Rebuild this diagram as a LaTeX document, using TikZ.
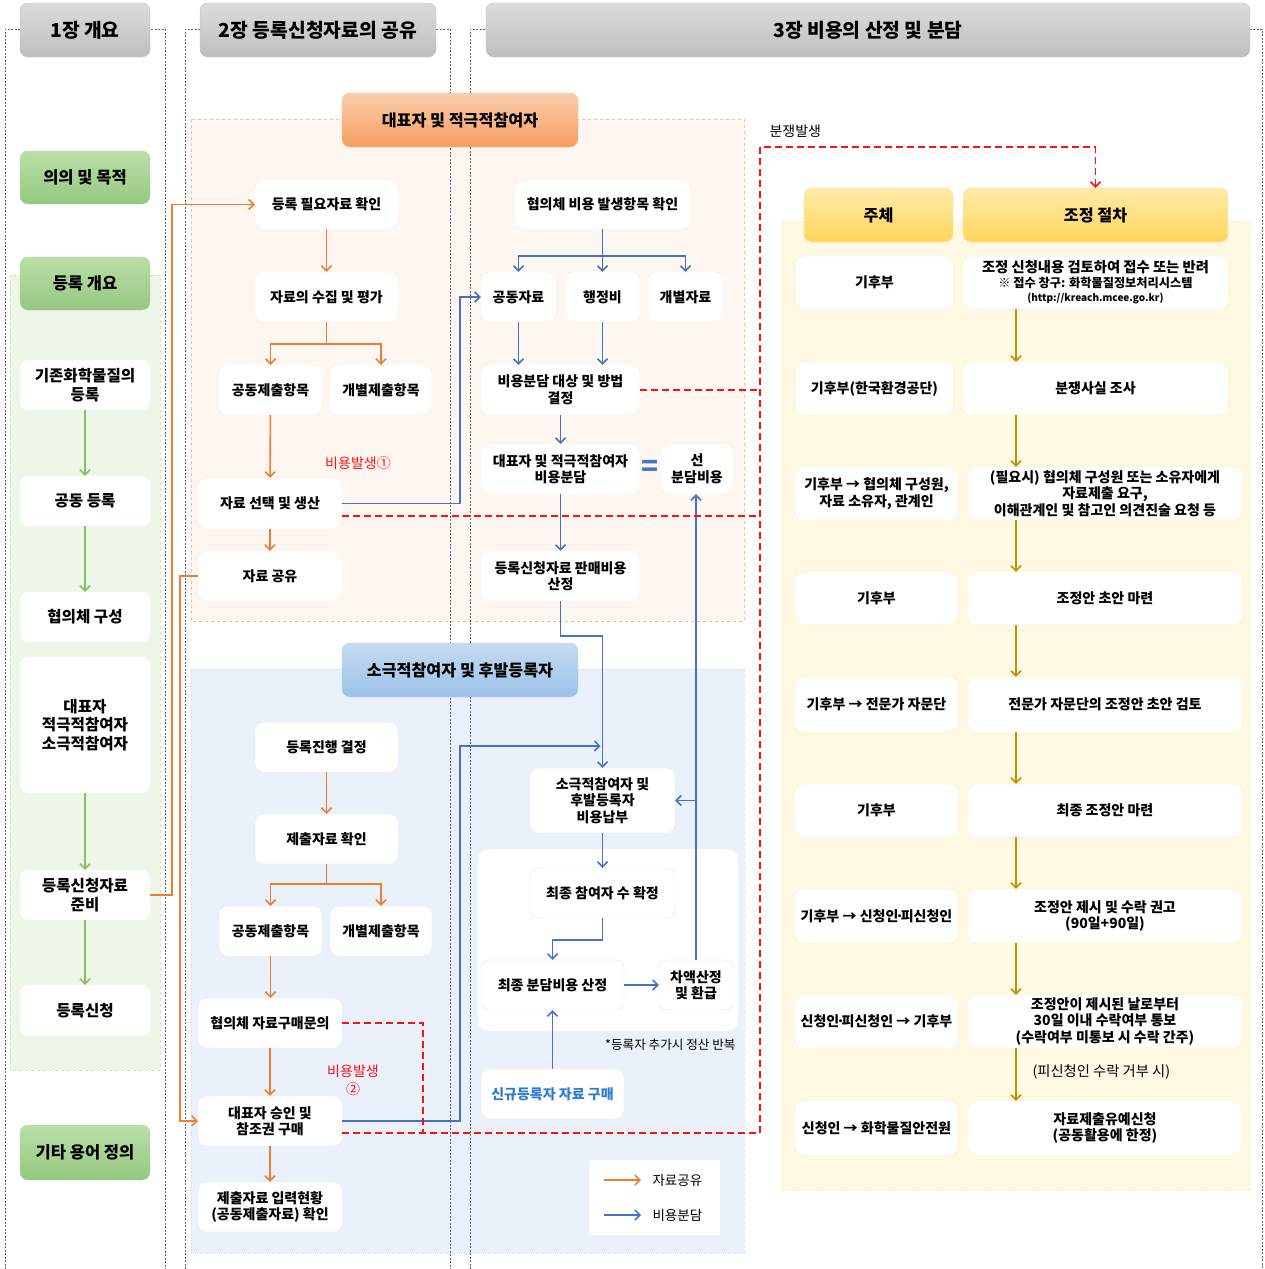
\documentclass[tikz,border=0pt]{standalone}
\usepackage{fontspec}
\setmainfont{Noto Sans CJK KR}
\usetikzlibrary{arrows.meta,calc}
\definecolor{hdgrayA}{HTML}{DCDCDC}
\definecolor{hdgrayB}{HTML}{BEBEBE}
\definecolor{hdgreenA}{HTML}{B9DFA8}
\definecolor{hdgreenB}{HTML}{96C780}
\definecolor{hdorgA}{HTML}{FBCFAE}
\definecolor{hdorgB}{HTML}{F59E5E}
\definecolor{hdblueA}{HTML}{C5DBF1}
\definecolor{hdblueB}{HTML}{9BC1E7}
\definecolor{hdyelA}{HTML}{FFEAA8}
\definecolor{hdyelB}{HTML}{FFD65C}
\definecolor{framec}{HTML}{5B6479}
\definecolor{orgline}{HTML}{ED7D31}
\definecolor{blueline}{HTML}{4472C4}
\definecolor{goldline}{HTML}{BF9000}
\definecolor{greenline}{HTML}{86C063}
\definecolor{redline}{HTML}{FF1010}
\definecolor{orgbg}{HTML}{FEF7F1}
\definecolor{bluebg}{HTML}{EAF1FA}
\definecolor{yelbg}{HTML}{FFF8E3}
\definecolor{greenbg}{HTML}{EEF6EA}
\definecolor{newblue}{HTML}{2E7BCF}
\newcommand{\mdot}{\kern-0.22em·\kern-0.22em}
\tikzset{sz/.style 2 args={minimum width=#1pt, minimum height=#2pt},
base/.style={rounded corners=8pt, inner sep=1pt, align=center, text=black, font=\bfseries\fontsize{14}{16.5}\selectfont},
chap/.style={base, draw=hdgrayB, top color=hdgrayA, bottom color=hdgrayB, font=\bfseries\fontsize{19.3}{22}\selectfont},
greenhd/.style={base, draw=hdgreenB!70, top color=hdgreenA, bottom color=hdgreenB, font=\bfseries\fontsize{16.5}{19}\selectfont},
orghd/.style={base, draw=hdorgB!70, top color=hdorgA, bottom color=hdorgB, font=\bfseries\fontsize{16.2}{19}\selectfont},
bluehd/.style={base, draw=hdblueB!70, top color=hdblueA, bottom color=hdblueB, font=\bfseries\fontsize{16.2}{19}\selectfont},
yelhd/.style={base, draw=hdyelB!70, top color=hdyelA, bottom color=hdyelB, font=\bfseries\fontsize{16.2}{19}\selectfont},
gbox/.style={base, fill=white, draw=greenbg!60!green!15, font=\bfseries\fontsize{15.6}{18.5}\selectfont},
obox/.style={base, fill=white, draw=orgline!15},
bbox/.style={base, fill=white, draw=blueline!18},
ybox/.style={base, fill=white, draw=hdyelA!80},
frame/.style={draw=framec, line width=0.6pt, dash pattern=on 2pt off 1.5pt},
greenarea/.style={fill=greenbg, draw=greenline!40, dashed},
orgarea/.style={fill=orgbg, draw=orgline!50, dashed},
bluearea/.style={fill=bluebg, draw=blueline!25, dotted},
yelarea/.style={fill=yelbg, draw=hdyelA, dotted},
tip/.style={-{Straight Barb[length=5pt,width=10pt]}},
oarr/.style={tip, draw=orgline, line width=1.6pt},
barr/.style={tip, draw=blueline, line width=1.5pt},
garr/.style={tip, draw=greenline, line width=1.5pt},
yarr/.style={tip, draw=goldline, line width=1.5pt},
rdash/.style={draw=redline, line width=1.6pt, dash pattern=on 7pt off 4pt},
note/.style={font=\fontsize{14}{16.5}\selectfont}}
\begin{document}
\begin{tikzpicture}[x=1pt,y=-1pt]
\useasboundingbox (0,0) rectangle (1265,1269);
% areas and chapter frames
\draw[greenarea] (10,275) rectangle (160,1070);
\draw[orgarea] (191,119) rectangle (744,621);
\draw[bluearea] (191,669) rectangle (744,1253);
\draw[yelarea] (782,221) rectangle (1250,1190);
\fill[white, rounded corners=10pt] (478,849) rectangle (738,1031);
\fill[white] (589,1160) rectangle (720,1235);
\draw[frame] (5,1269) -- (5,29) -- (165,29) -- (165,1269);
\draw[frame] (185,1269) -- (185,29) -- (450,29) -- (450,1269);
\draw[frame] (470,1269) -- (470,29) -- (1262,29) -- (1262,1269);

\node[chap, sz={130}{54}] (ch1) at (85,30) {1장 개요};
\node[chap, sz={236}{54}] (ch2) at (318,30) {2장 등록신청자료의 공유};
\node[chap, sz={764}{54}] (ch3) at (868,30) {3장 비용의 산정 및 분담};

% 1장
\node[greenhd, sz={130}{53}] (purpose) at (85,177.5) {의의 및 목적};
\node[greenhd, sz={130}{53}] (outline) at (85,283.5) {등록 개요};
\node[greenhd, sz={130}{55}] (terms) at (85,1152.5) {기타 용어 정의};
\node[gbox, sz={130}{50}] (existing) at (85,385) {기존화학물질의\\등록};
\node[gbox, sz={130}{50}] (jointreg) at (85,501) {공동 등록};
\node[gbox, sz={130}{50}] (consort) at (85,617) {협의체 구성};
\node[gbox, sz={130}{136}] (roles) at (85,725) {대표자\\적극적참여자\\소극적참여자};
\node[gbox, sz={130}{50}] (prepare) at (85,895) {등록신청자료\\준비};
\node[gbox, sz={130}{51}] (apply) at (85,1010.5) {등록신청};
\draw[garr] (existing) -- (jointreg);
\draw[garr] (jointreg) -- (consort);
\draw[garr] (roles) -- (prepare);
\draw[garr] (prepare) -- (apply);

% 2장 upper
\node[orghd, sz={236}{54}] (leadhd) at (460,120) {대표자 및 적극적참여자};
\node[obox, sz={143}{49}] (needdata) at (326.5,204.5) {등록 필요자료 확인};
\node[obox, sz={143}{50}] (collect) at (326.5,297) {자료의 수집 및 평가};
\node[obox, sz={103}{50}] (jointA) at (270.5,390) {공동제출항목};
\node[obox, sz={102}{50}] (indivA) at (381,390) {개별제출항목};
\node[obox, sz={144}{51}] (select) at (270,503.5) {자료 선택 및 생산};
\node[obox, sz={144}{50}] (share) at (270,576) {자료 공유};
\node[obox, sz={175}{49}] (costitem) at (602.5,204.5) {협의체 비용 발생항목 확인};
\node[obox, sz={75}{50}] (jdata) at (518.5,297) {공동자료};
\node[obox, sz={75}{50}] (admin) at (602.5,297) {행정비};
\node[obox, sz={75}{50}] (idata) at (685.5,297) {개별자료};
\node[obox, sz={159}{50}] (method) at (560.5,390) {비용분담 대상 및 방법\\결정};
\node[obox, sz={159}{50}] (leadshare) at (560.5,469) {대표자 및 적극적참여자\\비용분담};
\node[text=blueline, font=\bfseries\fontsize{28}{28}\selectfont] (eqsign) at (650,468) {=};
\node[obox, sz={72}{50}] (precost) at (697,469) {선\\분담비용};
\node[obox, sz={159}{50}] (sellcost) at (560.5,576) {등록신청자료 판매비용\\산정};
\node[note, text=redline] (cost1) at (358,463) {비용발생①};

% 2장 lower
\node[bluehd, sz={236}{54}] (laterhd) at (460,670) {소극적참여자 및 후발등록자};
\node[bbox, sz={143}{50}] (decide) at (326.5,747) {등록진행 결정};
\node[bbox, sz={143}{50}] (checkB) at (326.5,839) {제출자료 확인};
\node[bbox, sz={103}{50}] (jointB) at (270.5,931) {공동제출항목};
\node[bbox, sz={102}{50}] (indivB) at (381,931) {개별제출항목};
\node[bbox, sz={144}{50}] (inquiry) at (270,1023) {협의체 자료구매문의};
\node[bbox, sz={144}{50}] (approve) at (270,1121) {대표자 승인 및\\참조권 구매};
\node[bbox, sz={144}{50}] (status) at (270,1207) {제출자료 입력현황\\(공동제출자료) 확인};
\node[bbox, sz={145}{65}] (latepay) at (602.5,800.5) {소극적참여자 및\\후발등록자\\비용납부};
\node[bbox, sz={145}{50}] (finalnum) at (602.5,893) {최종 참여자 수 확정};
\node[bbox, sz={143}{50}] (finalcost) at (552.5,985) {최종 분담비용 산정};
\node[bbox, sz={74}{50}] (refund) at (696,985) {차액산정\\및 환급};
\node[bbox, sz={143}{50}, text=newblue] (newbuy) at (552.5,1094) {신규등록자 자료 구매};
\node[note, anchor=east, font=\fontsize{12.6}{15}\selectfont] (repeat) at (739,1045) {*등록자 추가시 정산 반복};
\node[note, text=redline, align=center, font=\fontsize{14}{18}\selectfont] (cost2) at (353,1080) {비용발생\\②};

% 3장
\node[yelhd, sz={149}{54}] (subjhd) at (878.5,215) {주체};
\node[yelhd, sz={265}{54}] (prochd) at (1095.5,215) {조정 절차};
\node[ybox, sz={158}{53}] (subj1) at (874.5,282.5) {기후부};
\node[ybox, sz={265}{53}] (proc1) at (1095.5,282.5) {\fontsize{14.3}{16}\selectfont 조정 신청내용 검토하여 접수 또는 반려\\[-2pt]{\fontsize{12.2}{14}\selectfont ※ 접수 창구: 화학물질정보처리시스템}\\[-2pt]{\fontsize{10}{12}\selectfont (http://kreach.mcee.go.kr)}};
\node[ybox, sz={158}{53}] (subj2) at (874.5,388.5) {기후부(한국환경공단)};
\node[ybox, sz={265}{53}] (proc2) at (1095.5,388.5) {분쟁사실 조사};
\node[ybox, sz={163}{53}] (subj3) at (876.5,493.5) {기후부 → 협의체 구성원,\\자료 소유자, 관계인};
\node[ybox, sz={274}{53}] (proc3) at (1105,493.5) {(필요시) 협의체 구성원 또는 소유자에게\\자료제출 요구,\\이해관계인 및 참고인 의견진술 요청 등};
\node[ybox, sz={163}{53}] (subj4) at (876.5,598.5) {기후부};
\node[ybox, sz={274}{53}] (proc4) at (1105,598.5) {조정안 초안 마련};
\node[ybox, sz={163}{55}] (subj5) at (876.5,704.5) {기후부 → 전문가 자문단};
\node[ybox, sz={274}{55}] (proc5) at (1105,704.5) {전문가 자문단의 조정안 초안 검토};
\node[ybox, sz={163}{53}] (subj6) at (876.5,810.5) {기후부};
\node[ybox, sz={274}{53}] (proc6) at (1105,810.5) {최종 조정안 마련};
\node[ybox, sz={163}{54}] (subj7) at (876.5,916) {기후부 → 신청인\mdot 피신청인};
\node[ybox, sz={274}{54}] (proc7) at (1105,916) {조정안 제시 및 수락 권고\\(90일+90일)};
\node[ybox, sz={163}{53}] (subj8) at (876.5,1021.5) {신청인\mdot 피신청인 → 기후부};
\node[ybox, sz={274}{53}] (proc8) at (1105,1021.5) {조정안이 제시된 날로부터\\30일 이내 수락여부 통보\\(수락여부 미통보 시 수락 간주)};
\node[ybox, sz={163}{54}] (subj9) at (876.5,1128) {신청인 → 화학물질안전원};
\node[ybox, sz={274}{54}] (proc9) at (1105,1128) {자료제출유예신청\\(공동활용에 한정)};
\node[note, anchor=west, font=\fontsize{14.3}{16}\selectfont] (refuse) at (1029,1072) {(피신청인 수락 거부 시)};
\node[note, anchor=west] (dispute) at (766,131) {분쟁발생};
\coordinate (gx) at (1016,0);
\foreach \a/\b in {1/2,2/3,3/4,4/5,5/6,6/7,7/8,8/9}
  \draw[yarr] (proc\a.south -| gx) -- (proc\b.north -| gx);

% orange connectors
\coordinate (ox1) at (172,0);
\coordinate (ox2) at (180,0);
\coordinate (osplitA) at (326.5,344);
\coordinate (osplitB) at (326.5,884);
\draw[oarr] (prepare.east) -| (ox1 |- needdata.west) -- (needdata.west);
\draw[oarr] (share.west) -| (ox2 |- approve.west) -- (approve.west);
\draw[oarr] (needdata) -- (collect);
\draw[oarr] (collect.south) -- (osplitA) -| (jointA.north);
\draw[oarr] (osplitA) -| (indivA.north);
\draw[oarr] (jointA) -- (select);
\draw[oarr] (select) -- (share);
\draw[oarr] (decide) -- (checkB);
\draw[oarr] (checkB.south) -- (osplitB) -| (jointB.north);
\draw[oarr] (osplitB) -| (indivB.north);
\draw[oarr] (jointB.south) -- (jointB.south |- inquiry.north);
\draw[oarr] (inquiry) -- (approve);
\draw[oarr] (approve) -- (status);

% blue connectors
\coordinate (bx1) at (460,0);
\coordinate (bsplit) at (602.5,256);
\coordinate (bturn) at (602.5,636);
\coordinate (bjoin) at (602.5,746);
\draw[barr] (costitem.south) -- (admin.north);
\draw[barr] (bsplit) -| (jdata.north);
\draw[barr] (bsplit) -| (idata.north);
\draw[barr] (jdata.south) -- (jdata.south |- method.north);
\draw[barr] (admin.south) -- (admin.south |- method.north);
\draw[barr] (method) -- (leadshare);
\draw[barr] (leadshare) -- (sellcost);
\draw[barr] (sellcost.south) |- (bturn) -- (latepay.north);
\draw[barr] (select.east) -| (bx1 |- jdata.west) -- (jdata.west);
\draw[barr] (approve.east) -| (bx1 |- bjoin) -- ([xshift=-2pt]bjoin);
\draw[barr] (refund.north) -- (refund.north |- precost.south);
\draw[barr] (refund.north |- latepay.east) -- (latepay.east);
\draw[barr] (latepay) -- (finalnum);
\draw[barr] (finalnum.south) -- ++(0,22) -| (finalcost.north);
\draw[barr] (finalcost) -- (refund);
\draw[barr] (newbuy) -- (finalcost);

% red dashed
\coordinate (disp) at (760,147);
\coordinate (rbot) at (760,1133);
\coordinate (rmid) at (423,1133);
\draw[rdash] ([yshift=-12.5pt]select.east) -- ([yshift=-12.5pt]select.east -| disp);
\draw[rdash] (method.east) -- (method.east -| disp);
\draw[rdash] (inquiry.east) -| (rmid);
\draw[rdash] ([yshift=-12pt]approve.east) -- (rbot);
\draw[rdash, -{Straight Barb[length=5pt,width=10pt]}] (rbot) -- (disp) -| (prochd.north);

% legend
\coordinate (lgA1) at (604,1180);
\coordinate (lgA2) at (641,1180);
\coordinate (lgB1) at (604,1215);
\coordinate (lgB2) at (641,1215);
\draw[oarr] (lgA1) -- (lgA2);
\draw[barr] (lgB1) -- (lgB2);
\node[note, anchor=west, font=\fontsize{13.5}{15}\selectfont] (lgshare) at (649,1180) {자료공유};
\node[note, anchor=west, font=\fontsize{13.5}{15}\selectfont] (lgcost) at (649,1215) {비용분담};
\end{tikzpicture}
\end{document}
